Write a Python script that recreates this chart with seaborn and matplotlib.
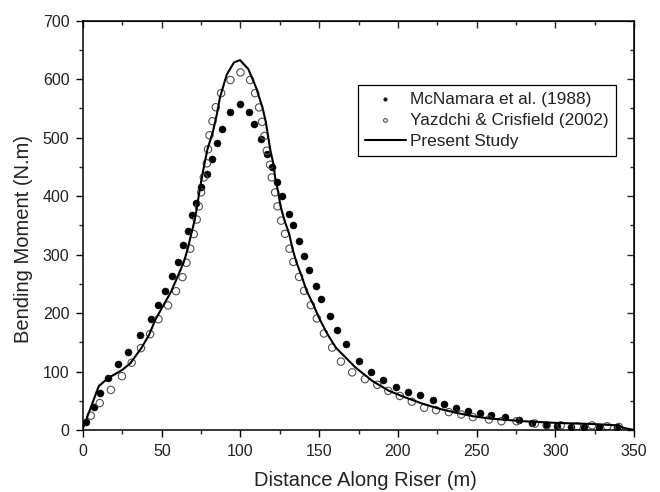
# bending moment along riser - comparison plot
import numpy as np
import pandas as pd
import seaborn as sns
import matplotlib
matplotlib.use("Agg")
import matplotlib.pyplot as plt
from matplotlib.ticker import MultipleLocator

# %% data

# McNamara et al. (1988) - filled dots
mcnamara_x = [2.1, 7.0, 10.6, 16.0, 22.1, 28.7, 36.2, 43.0, 47.7, 52.1, 56.6, 60.0,
              63.6, 66.4, 69.5, 72.0, 75.0, 78.6, 81.7, 85.1, 88.5, 93.5, 99.8,
              105.5, 108.8, 112.9, 116.7, 119.9, 123.5, 126.6, 130.7, 133.3, 137.2,
              140.6, 143.8, 148.0, 151.4, 157.0, 161.4, 167.3, 175.1, 183.0, 190.7,
              199.0, 206.7, 214.2, 222.0, 229.5, 237.0, 244.8, 252.3, 258.9, 268.3,
              277.0, 285.0, 293.9, 300.9, 310.0, 318.0, 327.5, 339.0]
mcnamara_y = [14.3, 38.8, 62.8, 89.6, 112.4, 133, 162, 189.5, 213, 238, 264, 287,
              317, 340, 367, 388, 415, 438, 464, 491, 514, 544.5, 557.5,
              543.3, 523.5, 497.5, 472, 449, 424.5, 401, 370, 350, 323,
              298, 273, 247, 224, 195, 171, 147, 118, 99, 85.5,
              73, 65, 59.5, 51, 44, 37, 32.5, 29, 26.5, 22,
              17, 12.5, 8, 6, 5.5, 5, 4.5, 4.5]

# Yazdchi & Crisfield (2002) - open circles
yazdchi_x = [4.9, 10.6, 17.7, 24.7, 30.9, 36.8, 42.6, 47.9, 54.0, 59.1, 63.2, 65.7,
             68.1, 70.3, 72.2, 73.5, 75.0, 76.7, 78.6, 79.4, 80.3, 82.2, 84.3, 87.7,
             93.6, 100.0, 106.1, 109.3, 111.8, 113.7, 115.2, 116.7, 118.8, 119.9,
             122.0, 123.5, 125.8, 128.3, 131.1, 133.6, 137.2, 140.4, 144.7, 148.5,
             153.0, 158.2, 163.8, 170.9, 179.0, 186.9, 193.9, 201.2, 208.8, 216.7,
             224.2, 232.3, 240.2, 247.6, 257.8, 265.7, 275.3, 287.0, 294.5, 303.4,
             313.7, 323.3, 332.9, 340.3]
yazdchi_y = [24.5, 46, 68.5, 92, 115, 140, 164, 189.5, 213, 237.4, 261.4, 286,
             310, 335, 360, 382.5, 406.4, 432, 456, 480, 504, 528, 552, 576,
             598.5, 611.5, 598.5, 576, 551.6, 527, 503, 477.6, 453.6, 432,
             406.4, 382.5, 358, 335.5, 310, 287.4, 261.8, 238, 213.4, 190.7,
             165, 141, 117, 98.6, 87, 77.3, 67, 58.2, 48.4, 38,
             34, 30.6, 26.5, 22, 18, 15, 15, 11, 8, 8,
             6.3, 8, 6.3, 5.2]

# Present Study - solid line
present_x = [0, 10, 16, 20, 25, 30, 37, 42, 46, 51, 56, 60, 64, 66.5, 68.8, 71,
             72.5, 73.8, 75.5, 77.2, 79, 82.5, 85, 87, 91.3, 95.9, 99.7, 105, 110,
             114, 116, 117.5, 119, 121, 122, 124, 125.5, 128, 131, 133, 135.5, 139,
             142, 146.5, 150, 155, 160.5, 173, 183.7, 194.3, 205, 215.6, 226.3, 237,
             247.6, 258.3, 279.6, 300.9, 322.2, 339.3, 343.6, 350]
present_y = [3, 75, 89, 95, 103, 114, 140, 163, 189, 213, 237, 262, 287, 310, 336, 360,
             383, 406, 432, 456, 480, 510, 540, 569, 608, 628.6, 632.6, 617, 585,
             551, 528, 503, 478, 454, 432, 406, 382, 358, 335, 310, 287, 262,
             238, 213, 191, 165, 141, 107, 84, 67, 55.4, 45, 36.3, 29.4,
             23.6, 19.6, 15, 12.1, 10.4, 8, 3.5, 0]

mcnamara = pd.DataFrame({"x": mcnamara_x, "y": mcnamara_y})
yazdchi = pd.DataFrame({"x": yazdchi_x, "y": yazdchi_y})
present = pd.DataFrame({"x": present_x, "y": present_y})

# %% plot

sns.set_style("ticks")
plt.rcParams["font.family"] = ["Liberation Sans", "DejaVu Sans"]

fig = plt.figure(figsize=(6.6, 4.92), dpi=100)
ax = fig.add_axes([0.1258, 0.126, 0.835, 0.832])

sns.scatterplot(data=mcnamara, x="x", y="y", color="black", s=26,
                edgecolor="black", linewidth=0.3, label="McNamara et al. (1988)",
                ax=ax, zorder=2)
sns.scatterplot(data=yazdchi, x="x", y="y", facecolor="none", s=28,
                edgecolor="#505050", linewidth=0.8,
                label="Yazdchi & Crisfield (2002)", ax=ax, zorder=2)
sns.lineplot(data=present, x="x", y="y", color="black", linewidth=1.5,
             label="Present Study", ax=ax, zorder=3, sort=False)

ax.set_xlim(0, 350)
ax.set_ylim(0, 700)
ax.xaxis.set_major_locator(MultipleLocator(50))
ax.xaxis.set_minor_locator(MultipleLocator(25))
ax.yaxis.set_major_locator(MultipleLocator(100))
ax.yaxis.set_minor_locator(MultipleLocator(50))
ax.tick_params(which="major", direction="out", length=4.8, width=1.0,
               labelsize=11.5, pad=5, colors="black", labelcolor="#222222")
ax.tick_params(which="minor", direction="out", length=2.8, width=1.0)

for sp in ax.spines.values():
    sp.set_visible(True)
    sp.set_linewidth(1.1)
    sp.set_color("black")

# inward ticks on top and right
top = ax.secondary_xaxis("top")
top.xaxis.set_major_locator(MultipleLocator(50))
top.xaxis.set_minor_locator(MultipleLocator(25))
top.tick_params(which="major", direction="in", length=4.8, width=1.0, labeltop=False)
top.tick_params(which="minor", direction="in", length=2.8, width=1.0)
right = ax.secondary_yaxis("right")
right.yaxis.set_major_locator(MultipleLocator(100))
right.yaxis.set_minor_locator(MultipleLocator(50))
right.tick_params(which="major", direction="in", length=4.8, width=1.0, labelright=False)
right.tick_params(which="minor", direction="in", length=2.8, width=1.0)

ax.set_xlabel("Distance Along Riser (m)", fontsize=14.5, color="#222222")
ax.set_ylabel("Bending Moment (N.m)", fontsize=14.5, color="#222222")
ax.xaxis.set_label_coords(0.512, -0.1)
ax.yaxis.set_label_coords(-0.091, 0.467)

leg = ax.legend(loc="upper right", bbox_to_anchor=(0.967, 0.843),
                fontsize=12.4, frameon=True, fancybox=False, framealpha=1,
                edgecolor="black", markerscale=0.5, handlelength=2.4,
                handletextpad=0.25, labelspacing=0.35, borderpad=0.4,
                borderaxespad=0)
leg.get_frame().set_linewidth(0.9)
for t in leg.get_texts():
    t.set_color("#222222")

fig.savefig("out.png", dpi=100)
